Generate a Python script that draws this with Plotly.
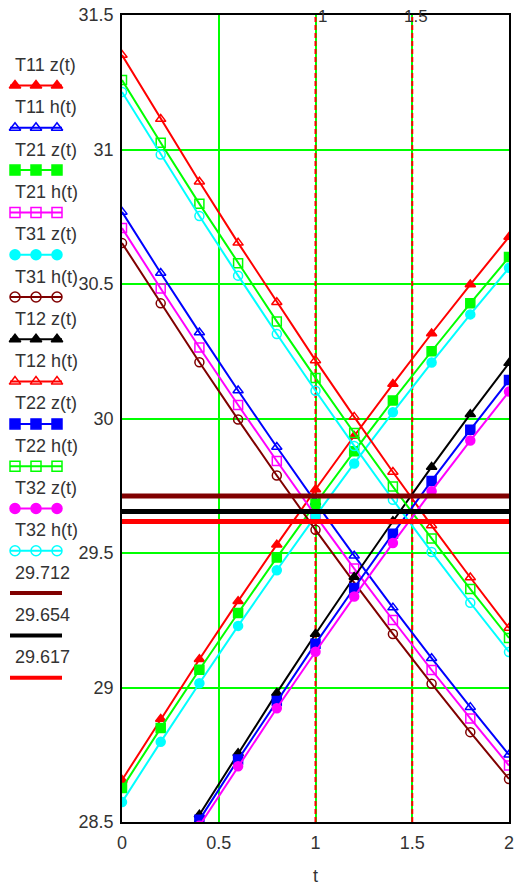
import plotly.graph_objects as go

# Time grid (markers every 0.2)
t = [0.0, 0.2, 0.4, 0.6, 0.8, 1.0, 1.2, 1.4, 1.6, 1.8, 2.0]

# Rising temperatures z(t)
T11_z = [28.656, 28.883, 29.105, 29.321, 29.531, 29.736, 29.935, 30.128, 30.316, 30.498, 30.675]
T21_z = [28.626, 28.849, 29.066, 29.277, 29.483, 29.683, 29.878, 30.067, 30.250, 30.428, 30.600]
T31_z = [28.574, 28.798, 29.016, 29.229, 29.436, 29.637, 29.833, 30.023, 30.208, 30.387, 30.560]
T12_z = [28.051, 28.292, 28.527, 28.756, 28.980, 29.199, 29.411, 29.618, 29.820, 30.016, 30.206]
T22_z = [28.043, 28.278, 28.508, 28.732, 28.950, 29.163, 29.370, 29.572, 29.768, 29.958, 30.143]
T32_z = [28.026, 28.259, 28.486, 28.707, 28.923, 29.133, 29.338, 29.537, 29.730, 29.918, 30.100]

# Falling temperatures h(t)
T11_h = [30.768, 30.541, 30.320, 30.104, 29.894, 29.689, 29.490, 29.297, 29.109, 28.927, 28.750]
T21_h = [30.708, 30.483, 30.264, 30.050, 29.842, 29.639, 29.442, 29.251, 29.065, 28.885, 28.710]
T31_h = [30.652, 30.428, 30.209, 29.996, 29.788, 29.586, 29.390, 29.199, 29.014, 28.834, 28.660]
T12_h = [31.351, 31.113, 30.880, 30.653, 30.432, 30.216, 30.006, 29.801, 29.602, 29.409, 29.221]
T22_h = [31.258, 31.025, 30.798, 30.577, 30.361, 30.151, 29.946, 29.747, 29.554, 29.366, 29.184]
T32_h = [31.214, 30.981, 30.753, 30.531, 30.314, 30.103, 29.898, 29.698, 29.504, 29.315, 29.132]

# Equilibrium levels and marked times
levels = [29.712, 29.654, 29.617]
level_colors = ["#800000", "#000000", "#FF0000"]
marker_t = [1, 1.5]

x_ticks = [0, 0.5, 1, 1.5, 2]
y_ticks = [28.5, 29, 29.5, 30, 30.5, 31, 31.5]

RED, BLUE, GREEN, MAG, CYAN, BROWN, BLACK = (
    "#FF0000", "#0000FF", "#00FF00", "#FF00FF", "#00FFFF", "#800000", "#000000")

series = [
    ("T11 z(t)", T11_z, RED, "triangle-up"),
    ("T11 h(t)", T11_h, BLUE, "triangle-up-open"),
    ("T21 z(t)", T21_z, GREEN, "square"),
    ("T21 h(t)", T21_h, MAG, "square-open"),
    ("T31 z(t)", T31_z, CYAN, "circle"),
    ("T31 h(t)", T31_h, BROWN, "circle-open"),
    ("T12 z(t)", T12_z, BLACK, "triangle-up"),
    ("T12 h(t)", T12_h, RED, "triangle-up-open"),
    ("T22 z(t)", T22_z, BLUE, "square"),
    ("T22 h(t)", T22_h, GREEN, "square-open"),
    ("T32 z(t)", T32_z, MAG, "circle"),
    ("T32 h(t)", T32_h, CYAN, "circle-open"),
]

W, H = 516, 886
PL, PR, PT, PB = 122, 509, 15, 822   # plot box in pixels
FONT = "Liberation Sans, Arial, sans-serif"
TXT = "#333333"
LEG_W = 120

fig = go.Figure()

# Marked times: red dashed verticals over the green grid
for tm in marker_t:
    fig.add_trace(go.Scatter(
        x=[tm, tm], y=[y_ticks[0], y_ticks[-1]], mode="lines",
        line=dict(color=RED, width=2, dash="5px,3px"),
        hoverinfo="skip", showlegend=False))

for name, vals, col, sym in series:
    fig.add_trace(go.Scatter(
        x=t, y=vals, mode="lines+markers", name=name,
        line=dict(color=col, width=2),
        marker=dict(symbol=sym, size=9, color=col, line=dict(color=col, width=1.5)),
        showlegend=False))

for lv, col in zip(levels, level_colors):
    fig.add_trace(go.Scatter(
        x=[x_ticks[0], x_ticks[-1]], y=[lv, lv], mode="lines",
        line=dict(color=col, width=5), showlegend=False, name=f"{lv:.3f}"))

# Labels of the marked times along the top edge
for tm in marker_t:
    fig.add_annotation(x=tm, y=1, xref="x", yref="paper", yanchor="top",
                       xanchor="left" if tm == 1 else "center", xshift=0 if tm == 1 else 4,
                       yshift=-5, text=f"{tm:g}", showarrow=False,
                       font=dict(family=FONT, size=17, color=TXT))

# Hand-drawn legend column on the left (pixel-unit axes)
legend_rows = [(n, c, s) for n, _, c, s in series] + \
              [(f"{lv:.3f}", c, None) for lv, c in zip(levels, level_colors)]
row0_txt, row0_line, row_dy = 65.0, 85.5, 42.3
for i, (label, col, sym) in enumerate(legend_rows):
    ty = row0_txt + i * row_dy
    ly = row0_line + i * row_dy
    fig.add_annotation(x=13, y=ty, xref="x2", yref="y2", xanchor="left", yanchor="middle",
                       text=label, showarrow=False,
                       font=dict(family=FONT, size=18, color=TXT))
    if sym is None:
        fig.add_trace(go.Scatter(x=[10, 62], y=[ly, ly], mode="lines", xaxis="x2", yaxis="y2",
                                 line=dict(color=col, width=4), showlegend=False, hoverinfo="skip"))
    else:
        fig.add_trace(go.Scatter(x=[10, 62], y=[ly, ly], mode="lines", xaxis="x2", yaxis="y2",
                                 line=dict(color=col, width=2), showlegend=False, hoverinfo="skip"))
        fig.add_trace(go.Scatter(x=[15, 36, 57], y=[ly, ly, ly], mode="markers",
                                 xaxis="x2", yaxis="y2",
                                 marker=dict(symbol=sym, size=10, color=col,
                                             line=dict(color=col, width=1.5)),
                                 showlegend=False, hoverinfo="skip"))

plot_w = W - (W - PR)
fig.update_layout(
    width=W, height=H,
    margin=dict(l=0, r=W - PR, t=0, b=0),
    paper_bgcolor="white", plot_bgcolor="white",
    font=dict(family=FONT, size=18, color=TXT),
    xaxis=dict(domain=[PL / plot_w, 1.0], range=[x_ticks[0], x_ticks[-1]],
               tickvals=x_ticks, ticktext=[f"{v:g}" for v in x_ticks],
               showgrid=True, gridcolor=GREEN, gridwidth=1.5, zeroline=False,
               showline=True, linecolor=BLACK, linewidth=1.5, mirror=True,
               ticks="", ticklabelstandoff=4,
               title=dict(text="t", standoff=19, font=dict(size=18)),
               tickfont=dict(size=18, color=TXT), automargin=False),
    yaxis=dict(domain=[(H - PB) / H, (H - PT) / H], range=[y_ticks[0], y_ticks[-1]],
               tickvals=y_ticks, ticktext=[f"{v:g}" for v in y_ticks],
               showgrid=True, gridcolor=GREEN, gridwidth=1.5, zeroline=False,
               showline=True, linecolor=BLACK, linewidth=1.5, mirror=True,
               ticks="", ticklabelstandoff=3,
               tickfont=dict(size=18, color=TXT), automargin=False),
    xaxis2=dict(domain=[0, LEG_W / plot_w], range=[0, LEG_W], visible=False, fixedrange=True),
    yaxis2=dict(domain=[0, 1], range=[H, 0], visible=False, fixedrange=True, anchor="x2"),
    showlegend=False,
)

fig.write_html("out.html")
